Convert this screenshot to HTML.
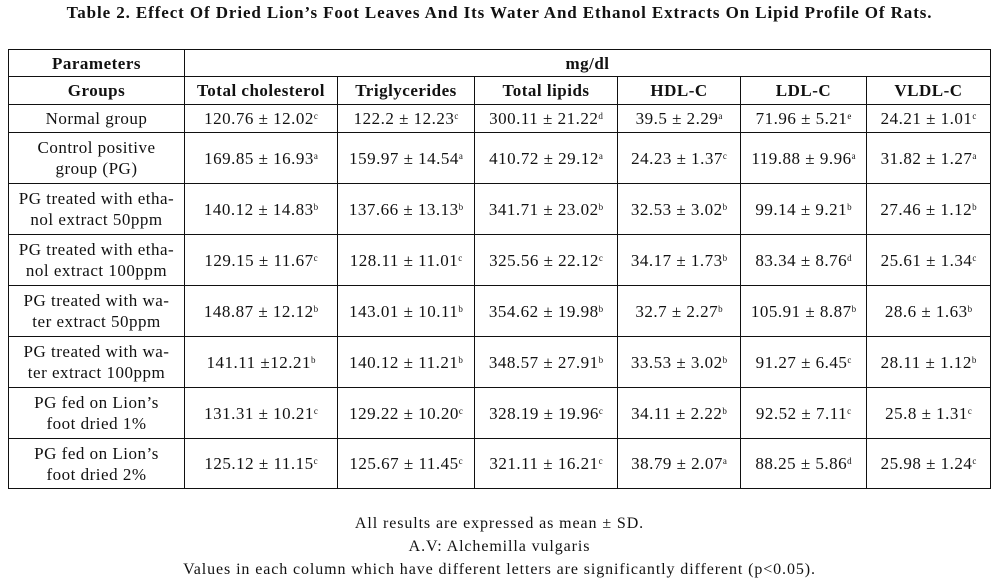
<!DOCTYPE html>
<html><head><meta charset="utf-8"><style>
body{margin:0;width:999px;height:585px;background:#fff;font-family:"Liberation Serif",serif;color:#111;position:relative;overflow:hidden}
#title{position:absolute;left:0;top:3px;width:999px;text-align:center;font-weight:bold;font-size:17px;letter-spacing:0.9px;white-space:nowrap}
table{position:absolute;left:8px;top:49px;border-collapse:collapse;table-layout:fixed}
td{border:1.3px solid #111;text-align:center;font-size:17px;letter-spacing:0.5px;padding:0;line-height:21px;white-space:nowrap}
.h td{font-weight:bold}
sup{font-size:9px;vertical-align:top;position:relative;top:-2px;letter-spacing:0}
#notes{position:absolute;left:0;top:512px;width:999px;text-align:center;font-size:16px;letter-spacing:0.9px;line-height:23px}
</style></head><body>
<div id="title">Table 2. Effect Of Dried Lion’s Foot Leaves And Its Water And Ethanol Extracts On Lipid Profile Of Rats.</div>
<table>
<colgroup><col style="width:176px"><col style="width:153px"><col style="width:137px"><col style="width:143px"><col style="width:123px"><col style="width:126px"><col style="width:124px"></colgroup>
<tr class="h" style="height:27px"><td>Parameters</td><td colspan="6">mg/dl</td></tr>
<tr class="h" style="height:28px"><td>Groups</td><td>Total cholesterol</td><td>Triglycerides</td><td>Total lipids</td><td>HDL-C</td><td>LDL-C</td><td>VLDL-C</td></tr>
<tr style="height:28px"><td>Normal group</td><td>120.76 ± 12.02<sup>c</sup></td><td>122.2 ± 12.23<sup>c</sup></td><td>300.11 ± 21.22<sup>d</sup></td><td>39.5 ± 2.29<sup>a</sup></td><td>71.96 ± 5.21<sup>e</sup></td><td>24.21 ± 1.01<sup>c</sup></td></tr>
<tr style="height:51px"><td>Control positive<br>group (PG)</td><td>169.85 ± 16.93<sup>a</sup></td><td>159.97 ± 14.54<sup>a</sup></td><td>410.72 ± 29.12<sup>a</sup></td><td>24.23 ± 1.37<sup>c</sup></td><td>119.88 ± 9.96<sup>a</sup></td><td>31.82 ± 1.27<sup>a</sup></td></tr>
<tr style="height:51px"><td>PG treated with etha-<br>nol extract 50ppm</td><td>140.12 ± 14.83<sup>b</sup></td><td>137.66 ± 13.13<sup>b</sup></td><td>341.71 ± 23.02<sup>b</sup></td><td>32.53 ± 3.02<sup>b</sup></td><td>99.14 ± 9.21<sup>b</sup></td><td>27.46 ± 1.12<sup>b</sup></td></tr>
<tr style="height:51px"><td>PG treated with etha-<br>nol extract 100ppm</td><td>129.15 ± 11.67<sup>c</sup></td><td>128.11 ± 11.01<sup>c</sup></td><td>325.56 ± 22.12<sup>c</sup></td><td>34.17 ± 1.73<sup>b</sup></td><td>83.34 ± 8.76<sup>d</sup></td><td>25.61 ± 1.34<sup>c</sup></td></tr>
<tr style="height:51px"><td>PG treated with wa-<br>ter extract 50ppm</td><td>148.87 ± 12.12<sup>b</sup></td><td>143.01 ± 10.11<sup>b</sup></td><td>354.62 ± 19.98<sup>b</sup></td><td>32.7 ± 2.27<sup>b</sup></td><td>105.91 ± 8.87<sup>b</sup></td><td>28.6 ± 1.63<sup>b</sup></td></tr>
<tr style="height:51px"><td>PG treated with wa-<br>ter extract 100ppm</td><td>141.11 ±12.21<sup>b</sup></td><td>140.12 ± 11.21<sup>b</sup></td><td>348.57 ± 27.91<sup>b</sup></td><td>33.53 ± 3.02<sup>b</sup></td><td>91.27 ± 6.45<sup>c</sup></td><td>28.11 ± 1.12<sup>b</sup></td></tr>
<tr style="height:51px"><td>PG fed on Lion’s<br>foot dried 1%</td><td>131.31 ± 10.21<sup>c</sup></td><td>129.22 ± 10.20<sup>c</sup></td><td>328.19 ± 19.96<sup>c</sup></td><td>34.11 ± 2.22<sup>b</sup></td><td>92.52 ± 7.11<sup>c</sup></td><td>25.8 ± 1.31<sup>c</sup></td></tr>
<tr style="height:50px"><td>PG fed on Lion’s<br>foot dried 2%</td><td>125.12 ± 11.15<sup>c</sup></td><td>125.67 ± 11.45<sup>c</sup></td><td>321.11 ± 16.21<sup>c</sup></td><td>38.79 ± 2.07<sup>a</sup></td><td>88.25 ± 5.86<sup>d</sup></td><td>25.98 ± 1.24<sup>c</sup></td></tr>
</table>
<div id="notes">All results are expressed as mean ± SD.<br>A.V: Alchemilla vulgaris<br>Values in each column which have different letters are significantly different (p&lt;0.05).</div>
</body></html>
